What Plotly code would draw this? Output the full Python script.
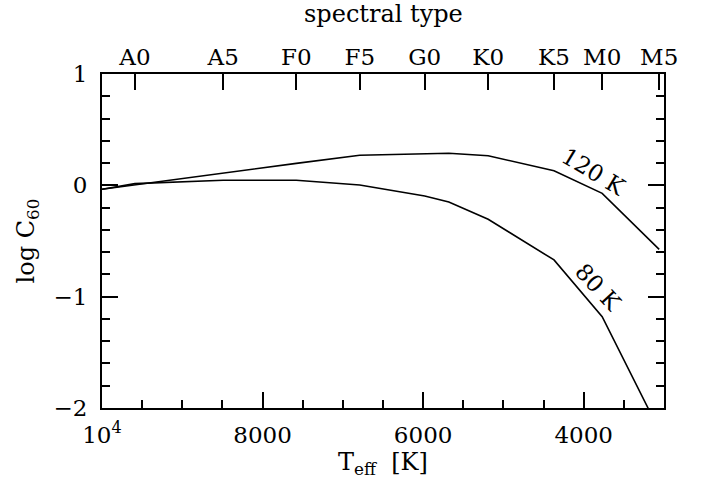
import plotly.graph_objects as go

# Effective temperatures of model points [K]
teff = [10000, 9590, 8490, 7580, 6790, 5980, 5680, 5190, 4370, 3770, 3060]
# log C60 for the two temperature curves
logc_120K = [-0.035, 0.005, 0.114, 0.197, 0.27, 0.283, 0.288, 0.266, 0.131, -0.072, -0.575]
logc_80K = [-0.035, 0.015, 0.045, 0.045, 0.003, -0.096, -0.15, -0.305, -0.67, -1.18, -2.2]

# Spectral type axis (top)
spt_teff = [9590, 8490, 7580, 6790, 5980, 5190, 4370, 3770, 3060]
spt_labels = ["A0", "A5", "F0", "F5", "G0", "K0", "K5", "M0", "M5"]

# bottom axis ticks
x_tickvals = [10000, 8000, 6000, 4000]
x_ticktext = ["10<sup>4</sup>", "8000", "6000", "4000"]
y_tickvals = [-2, -1, 0, 1]
y_ticktext = ["\u22122", "\u22121", "0", "1"]

FONT = "DejaVu Serif"
TS = 23
fig = go.Figure()
fig.add_trace(go.Scatter(x=teff, y=logc_120K, mode="lines",
                         line=dict(color="black", width=1.6), showlegend=False))
fig.add_trace(go.Scatter(x=teff, y=logc_80K, mode="lines",
                         line=dict(color="black", width=1.6), showlegend=False))
# invisible trace for top axis
fig.add_trace(go.Scatter(x=[spt_teff[0]], y=[0], xaxis="x2", mode="markers",
                         marker=dict(opacity=0), showlegend=False, hoverinfo="skip"))

fig.add_annotation(x=3872, y=0.12, text="120 K", textangle=31, showarrow=False,
                   font=dict(family=FONT, size=TS, color="black"))
fig.add_annotation(x=3822, y=-0.914, text="80 K", textangle=47, showarrow=False,
                   font=dict(family=FONT, size=TS, color="black"))
# top axis title
fig.add_annotation(x=0.5, y=1.18, xref="paper", yref="paper", text="spectral type",
                   showarrow=False, xanchor="center", yanchor="middle",
                   font=dict(family=FONT, size=24, color="black"))

axis_common = dict(showgrid=False, zeroline=False, linecolor="black", linewidth=2,
                   tickcolor="black", tickwidth=1.5, ticks="inside",
                   tickfont=dict(family=FONT, size=TS, color="black"))

fig.update_layout(
    width=708, height=487,
    margin=dict(l=102, r=44, t=74, b=79),
    plot_bgcolor="white", paper_bgcolor="white",
    xaxis=dict(range=[10000, 3000], tickvals=x_tickvals, ticktext=x_ticktext,
               ticklen=16, mirror=True,
               minor=dict(dtick=500, ticklen=8, ticks="inside", tickcolor="black", tickwidth=1.5),
               title=dict(text="T<sub>eff</sub>  [K]", font=dict(family=FONT, size=24, color="black"),
                          standoff=2),
               ticklabelstandoff=5,
               **axis_common),
    xaxis2=dict(range=[10000, 3000], overlaying="x", side="top", anchor="y",
                tickvals=spt_teff, ticktext=spt_labels, ticklen=16,
                ticklabelstandoff=3,
                showline=False,
                **{k: v for k, v in axis_common.items() if k not in ("linecolor", "linewidth")}),
    yaxis=dict(range=[-2, 1], tickvals=y_tickvals, ticktext=y_ticktext,
               ticklen=16, mirror="ticks",
               minor=dict(dtick=0.2, ticklen=8, ticks="inside", tickcolor="black", tickwidth=1.5),
               title=dict(text="log C<sub>60</sub>", font=dict(family=FONT, size=24, color="black"),
                          standoff=12),
               ticklabelstandoff=8,
               **axis_common),
)

fig.write_html("out.html")
